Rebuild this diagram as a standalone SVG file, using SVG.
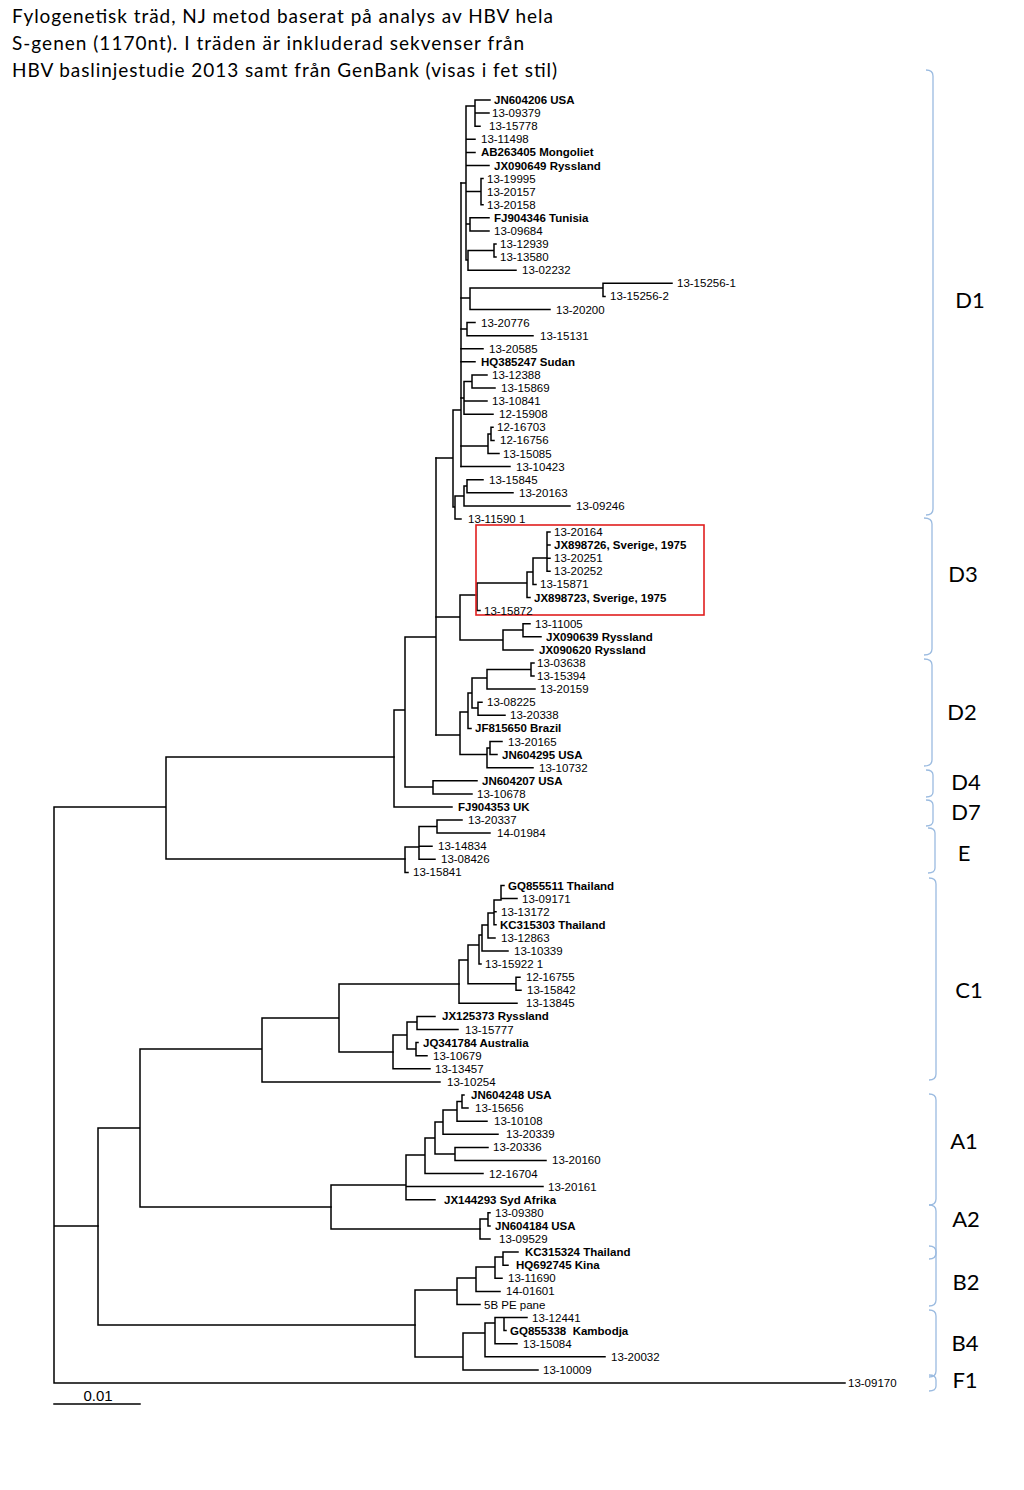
<svg xmlns="http://www.w3.org/2000/svg" width="1024" height="1490" viewBox="0 0 1024 1490">
<style>
.b{fill:none;stroke:#000;stroke-width:1.5;stroke-linecap:square}
.t{font-family:"Liberation Sans",Arial,sans-serif;font-size:11.5px;fill:#000}
.tb{font-family:"Liberation Sans",Arial,sans-serif;font-size:11.5px;font-weight:bold;fill:#000}
.br{fill:none;stroke:#9bbbe0;stroke-width:1.3}
.cl{font-family:Lato,"Open Sans",sans-serif;font-size:22px;fill:#000;text-anchor:middle}
.ti{font-family:Lato,"Open Sans",sans-serif;font-size:19px;fill:#000}
</style>
<rect width="1024" height="1490" fill="#fff"/>
<g id="title">
<text class="ti" x="12" y="23" textLength="541">Fylogenetisk träd, NJ metod baserat på analys av HBV hela</text>
<text class="ti" x="12" y="50" textLength="512">S-genen (1170nt). I träden är inkluderad sekvenser från</text>
<text class="ti" x="12" y="77" textLength="545">HBV baslinjestudie 2013 samt från GenBank (visas i fet stil)</text>
</g>
<g id="connectors">
<path class="b" d="M54 807V1383M54 807H166M54 1226H98M54 1383H845M166 757V859M166 757H394M166 859H405"/>
<path class="b" d="M394 710V807M394 807H452M394 710H405M405 637V787M405 787H433M433 780.8V793.9M433 780.8H477M433 793.9H472M405 637H436M436 458V735"/>
<path class="b" d="M436 617H460M460 595V640M460 595H477M477 583V610.6M477 610.6H480M477 583H527M527 572V597.5M527 597.5H530M527 572H533M533 558V584.4M533 584.4H536M533 558H547M547 532V571.3M547 532H550M547 545.1H550M547 558.2H550M547 571.3H550M460 640H503M503 630V649.9M503 630H523M523 623.7V636.8M523 623.7H530M523 636.8H541M503 649.9H533"/>
<path class="b" d="M436 735H460M460 712V754.6M460 712H468M468 693V728.4M468 728.4H471M468 693H472M472 678V708M472 678H487M487 669.5V689.1M487 669.5H531M531 663V676M531 663H534M531 676H534M487 689.1H535M472 708H478M478 702.2V715.3M478 702.2H482M478 715.3H505M460 754.6H487M487 748V767.7M487 748H490M490 741.5V754.6M490 741.5H502M490 754.6H497M487 767.7H533"/>
<path class="b" d="M436 458H453M453 410V507M453 410H461M461 183V466.6M453 507H455M455 496V518.9M455 518.9H461M455 496H464M464 486V505.9M464 486H467M467 479.7V492.8M467 479.7H483M467 492.8H513M464 505.9H570"/>
<path class="b" d="M461 183H466M466 106V260M466 106H475M475 100V126.2M475 100H490M475 113.1H489M475 126.2H480M466 139.3H475M466 152.4H475M466 165.5H489M466 191.6H481M481 178.6V204.7M481 178.6H483M481 204.7H483M466 224H470M470 217.8V230.9M470 217.8H489M470 230.9H489M466 260H468M468 250.5V270.2M468 250.5H494M494 244V257.1M494 244H496M494 257.1H496M468 270.2H516"/>
<path class="b" d="M461 298H470M470 288V309.5M470 288H603M603 283.3V296.4M603 283.3H672M603 296.4H605M470 309.5H550M461 329H467M467 322.6V335.7M467 322.6H475M467 335.7H533M461 348.7H483M461 361.8H475M461 398H464M464 381.5V414.2M464 381.5H472M472 374.9V388M472 374.9H487M472 388H495M464 401.1H487M464 414.2H493M461 446H488M488 434V453.5M488 434H491M491 427.3V440.4M491 427.3H493M491 440.4H494M488 453.5H499M461 466.6H510"/>
<path class="b" d="M405 847V872.4M405 872.4H408M405 847H419M419 826.6V859.3M419 826.6H437M437 820.1V833.1M437 820.1H462M437 833.1H490M419 846.2H432M419 859.3H435"/>
<path class="b" d="M98 1128V1325M98 1128H140M98 1325H415M140 1049V1207M140 1049H262M140 1207H331M262 1018V1082M262 1018H339M262 1081.9H440M339 984V1052M339 984H459M339 1052H393"/>
<path class="b" d="M459 960V1003.3M459 1003.3H517M459 960H468M468 945V983.7M468 983.7H516M516 977.2V990.2M516 977.2H520M516 990.2H521M468 945H479M479 935V964.1M479 964.1H481M479 935H482M482 925V951M482 951H508M482 925H488M488 913V937.9M488 937.9H495M488 913H494M494 900V924.8M494 911.7H496M494 924.8H496M494 900H501M501 885.5V898.6M501 885.5H504M501 898.6H517"/>
<path class="b" d="M393 1035V1068.8M393 1068.8H430M393 1035H407M407 1022V1049M407 1022H417M417 1016.4V1029.5M417 1016.4H435M417 1029.5H458M407 1049H416M416 1042.6V1055.7M416 1042.6H418M416 1055.7H427"/>
<path class="b" d="M331 1185V1229M331 1185H406M331 1229H480M406 1155V1199.7M406 1186.6H543M406 1199.7H435M406 1155H425M425 1138V1173.5M425 1173.5H483M425 1138H435M435 1122V1154M435 1122H443M443 1110V1134.3M443 1134.3H498M443 1110H457M457 1101.5V1121.2M457 1121.2H487M457 1101.5H462M462 1095V1108.1M462 1095H464M462 1108.1H468M435 1154H455M455 1147.4V1160.4M455 1147.4H488M455 1160.4H546"/>
<path class="b" d="M480 1219V1239M480 1219H488M488 1212.8V1225.9M488 1212.8H490M488 1225.9H490M480 1239H490"/>
<path class="b" d="M415 1290V1357M415 1290H457M457 1278V1304.5M457 1304.5H480M457 1278H476M476 1267V1291.4M476 1291.4H500M476 1267H495M495 1257V1278.3M495 1278.3H502M495 1257H503M503 1252.1V1265.2M503 1252.1H518M503 1265.2H508M415 1357H463M463 1333V1369.9M463 1369.9H538M463 1333H485M485 1323V1356.8M485 1356.8H605M485 1323H495M495 1317.5V1343.7M495 1343.7H517M495 1317.5H504M504 1317.5V1330.6M504 1317.5H527M504 1330.6H506"/>
</g>
<g id="highlight"><rect x="476" y="525" width="228" height="90" fill="none" stroke="#e01e1e" stroke-width="1.6"/></g>
<g id="scale-bar"><path class="b" d="M54 1404H140"/><text x="98" y="1401" font-family="Liberation Sans,Arial,sans-serif" font-size="15" text-anchor="middle">0.01</text></g>
<g id="leaves">
<g id="l0"><text class="tb" x="494" y="104">JN604206 USA</text></g>
<g id="l1"><text class="t" x="492" y="117.1">13-09379</text></g>
<g id="l2"><text class="t" x="489" y="130.2">13-15778</text></g>
<g id="l3"><text class="t" x="481" y="143.3">13-11498</text></g>
<g id="l4"><text class="tb" x="481" y="156.4">AB263405 Mongoliet</text></g>
<g id="l5"><text class="tb" x="494" y="169.5">JX090649 Ryssland</text></g>
<g id="l6"><text class="t" x="487" y="182.6">13-19995</text></g>
<g id="l7"><text class="t" x="487" y="195.6">13-20157</text></g>
<g id="l8"><text class="t" x="487" y="208.7">13-20158</text></g>
<g id="l9"><text class="tb" x="494" y="221.8">FJ904346 Tunisia</text></g>
<g id="l10"><text class="t" x="494" y="234.9">13-09684</text></g>
<g id="l11"><text class="t" x="500" y="248">13-12939</text></g>
<g id="l12"><text class="t" x="500" y="261.1">13-13580</text></g>
<g id="l13"><text class="t" x="522" y="274.2">13-02232</text></g>
<g id="l14"><text class="t" x="677" y="287.3">13-15256-1</text></g>
<g id="l15"><text class="t" x="610" y="300.4">13-15256-2</text></g>
<g id="l16"><text class="t" x="556" y="313.5">13-20200</text></g>
<g id="l17"><text class="t" x="481" y="326.6">13-20776</text></g>
<g id="l18"><text class="t" x="540" y="339.7">13-15131</text></g>
<g id="l19"><text class="t" x="489" y="352.7">13-20585</text></g>
<g id="l20"><text class="tb" x="481" y="365.8">HQ385247 Sudan</text></g>
<g id="l21"><text class="t" x="492" y="378.9">13-12388</text></g>
<g id="l22"><text class="t" x="501" y="392">13-15869</text></g>
<g id="l23"><text class="t" x="492" y="405.1">13-10841</text></g>
<g id="l24"><text class="t" x="499" y="418.2">12-15908</text></g>
<g id="l25"><text class="t" x="497" y="431.3">12-16703</text></g>
<g id="l26"><text class="t" x="500" y="444.4">12-16756</text></g>
<g id="l27"><text class="t" x="503" y="457.5">13-15085</text></g>
<g id="l28"><text class="t" x="516" y="470.6">13-10423</text></g>
<g id="l29"><text class="t" x="489" y="483.7">13-15845</text></g>
<g id="l30"><text class="t" x="519" y="496.8">13-20163</text></g>
<g id="l31"><text class="t" x="576" y="509.9">13-09246</text></g>
<g id="l32"><text class="t" x="468" y="522.9">13-11590 1</text></g>
<g id="l33"><text class="t" x="554" y="536">13-20164</text></g>
<g id="l34"><text class="tb" x="554" y="549.1">JX898726, Sverige, 1975</text></g>
<g id="l35"><text class="t" x="554" y="562.2">13-20251</text></g>
<g id="l36"><text class="t" x="554" y="575.3">13-20252</text></g>
<g id="l37"><text class="t" x="540" y="588.4">13-15871</text></g>
<g id="l38"><text class="tb" x="534" y="601.5">JX898723, Sverige, 1975</text></g>
<g id="l39"><text class="t" x="484" y="614.6">13-15872</text></g>
<g id="l40"><text class="t" x="535" y="627.7">13-11005</text></g>
<g id="l41"><text class="tb" x="546" y="640.8">JX090639 Ryssland</text></g>
<g id="l42"><text class="tb" x="539" y="653.9">JX090620 Ryssland</text></g>
<g id="l43"><text class="t" x="537" y="667">13-03638</text></g>
<g id="l44"><text class="t" x="537" y="680">13-15394</text></g>
<g id="l45"><text class="t" x="540" y="693.1">13-20159</text></g>
<g id="l46"><text class="t" x="487" y="706.2">13-08225</text></g>
<g id="l47"><text class="t" x="510" y="719.3">13-20338</text></g>
<g id="l48"><text class="tb" x="475" y="732.4">JF815650 Brazil</text></g>
<g id="l49"><text class="t" x="508" y="745.5">13-20165</text></g>
<g id="l50"><text class="tb" x="502" y="758.6">JN604295 USA</text></g>
<g id="l51"><text class="t" x="539" y="771.7">13-10732</text></g>
<g id="l52"><text class="tb" x="482" y="784.8">JN604207 USA</text></g>
<g id="l53"><text class="t" x="477" y="797.9">13-10678</text></g>
<g id="l54"><text class="tb" x="458" y="811">FJ904353 UK</text></g>
<g id="l55"><text class="t" x="468" y="824.1">13-20337</text></g>
<g id="l56"><text class="t" x="497" y="837.1">14-01984</text></g>
<g id="l57"><text class="t" x="438" y="850.2">13-14834</text></g>
<g id="l58"><text class="t" x="441" y="863.3">13-08426</text></g>
<g id="l59"><text class="t" x="413" y="876.4">13-15841</text></g>
<g id="l60"><text class="tb" x="508" y="889.5">GQ855511 Thailand</text></g>
<g id="l61"><text class="t" x="522" y="902.6">13-09171</text></g>
<g id="l62"><text class="t" x="501" y="915.7">13-13172</text></g>
<g id="l63"><text class="tb" x="500" y="928.8">KC315303 Thailand</text></g>
<g id="l64"><text class="t" x="501" y="941.9">13-12863</text></g>
<g id="l65"><text class="t" x="514" y="955">13-10339</text></g>
<g id="l66"><text class="t" x="485" y="968.1">13-15922 1</text></g>
<g id="l67"><text class="t" x="526" y="981.2">12-16755</text></g>
<g id="l68"><text class="t" x="527" y="994.2">13-15842</text></g>
<g id="l69"><text class="t" x="526" y="1007.3">13-13845</text></g>
<g id="l70"><text class="tb" x="442" y="1020.4">JX125373 Ryssland</text></g>
<g id="l71"><text class="t" x="465" y="1033.5">13-15777</text></g>
<g id="l72"><text class="tb" x="423" y="1046.6">JQ341784 Australia</text></g>
<g id="l73"><text class="t" x="433" y="1059.7">13-10679</text></g>
<g id="l74"><text class="t" x="435" y="1072.8">13-13457</text></g>
<g id="l75"><text class="t" x="447" y="1085.9">13-10254</text></g>
<g id="l76"><text class="tb" x="471" y="1099">JN604248 USA</text></g>
<g id="l77"><text class="t" x="475" y="1112.1">13-15656</text></g>
<g id="l78"><text class="t" x="494" y="1125.2">13-10108</text></g>
<g id="l79"><text class="t" x="506" y="1138.3">13-20339</text></g>
<g id="l80"><text class="t" x="493" y="1151.4">13-20336</text></g>
<g id="l81"><text class="t" x="552" y="1164.4">13-20160</text></g>
<g id="l82"><text class="t" x="489" y="1177.5">12-16704</text></g>
<g id="l83"><text class="t" x="548" y="1190.6">13-20161</text></g>
<g id="l84"><text class="tb" x="444" y="1203.7">JX144293 Syd Afrika</text></g>
<g id="l85"><text class="t" x="495" y="1216.8">13-09380</text></g>
<g id="l86"><text class="tb" x="495" y="1229.9">JN604184 USA</text></g>
<g id="l87"><text class="t" x="499" y="1243">13-09529</text></g>
<g id="l88"><text class="tb" x="525" y="1256.1">KC315324 Thailand</text></g>
<g id="l89"><text class="tb" x="516" y="1269.2">HQ692745 Kina</text></g>
<g id="l90"><text class="t" x="508" y="1282.3">13-11690</text></g>
<g id="l91"><text class="t" x="506" y="1295.4">14-01601</text></g>
<g id="l92"><text class="t" x="484" y="1308.5">5B PE pane</text></g>
<g id="l93"><text class="t" x="532" y="1321.5">13-12441</text></g>
<g id="l94"><text class="tb" x="510" y="1334.6" style="white-space:pre">GQ855338  Kambodja</text></g>
<g id="l95"><text class="t" x="523" y="1347.7">13-15084</text></g>
<g id="l96"><text class="t" x="611" y="1360.8">13-20032</text></g>
<g id="l97"><text class="t" x="543" y="1373.9">13-10009</text></g>
<g id="l98"><text class="t" x="848" y="1387">13-09170</text></g>
</g>
<g id="clades">
<g id="D1"><path class="br" d="M926 70Q933 70 933 76V509Q933 515 926 515"/><text class="cl" x="970" y="308">D1</text></g>
<g id="D3"><path class="br" d="M924 518Q932 518 932 524V649Q932 655 924 655"/><text class="cl" x="963" y="582">D3</text></g>
<g id="D2"><path class="br" d="M924 659Q932 659 932 665V760Q932 766 924 766"/><text class="cl" x="962" y="720">D2</text></g>
<g id="D4"><path class="br" d="M926 770Q933 770 933 775V792Q933 797 926 797"/><text class="cl" x="966" y="790">D4</text></g>
<g id="D7"><path class="br" d="M926 800Q933 800 933 805V821Q933 826 926 826"/><text class="cl" x="966" y="820">D7</text></g>
<g id="E"><path class="br" d="M928 828Q935 828 935 833V868Q935 873 928 873"/><text class="cl" x="964" y="861">E</text></g>
<g id="C1"><path class="br" d="M929 878Q936 878 936 884V1074Q936 1080 929 1080"/><text class="cl" x="969" y="998">C1</text></g>
<g id="A1"><path class="br" d="M929 1094Q936 1094 936 1100V1199Q936 1205 929 1205"/><text class="cl" x="964" y="1149">A1</text></g>
<g id="A2"><path class="br" d="M929 1205Q936 1205 936 1211V1253Q936 1259 929 1259"/><text class="cl" x="966" y="1227">A2</text></g>
<g id="B2"><path class="br" d="M929 1246Q936 1246 936 1252V1300Q936 1306 929 1306"/><text class="cl" x="966" y="1290">B2</text></g>
<g id="B4"><path class="br" d="M929 1310Q936 1310 936 1316V1371Q936 1377 929 1377"/><text class="cl" x="965" y="1351">B4</text></g>
<g id="F1"><path class="br" d="M929 1375Q936 1375 936 1380V1386Q936 1391 929 1391"/><text class="cl" x="965" y="1388">F1</text></g>
</g>
</svg>
